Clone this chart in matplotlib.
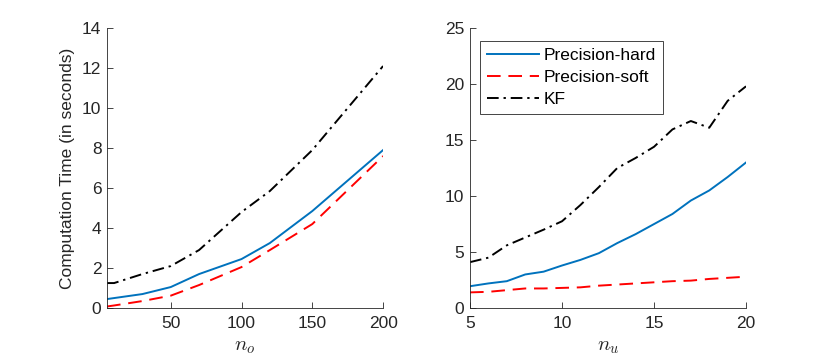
import matplotlib
matplotlib.use("Agg")
import matplotlib.pyplot as plt

plt.rcParams['font.family'] = ['Liberation Sans', 'DejaVu Sans']
plt.rcParams['mathtext.fontset'] = 'cm'

# Left panel: n_o
no_vals = [5, 10, 30, 50, 70, 100, 120, 150, 200]
no_hard = [0.45, 0.5, 0.7, 1.05, 1.7, 2.45, 3.25, 4.85, 7.9]
no_soft = [0.08, 0.13, 0.35, 0.62, 1.15, 2.05, 2.9, 4.2, 7.6]
no_kf = [1.25, 1.25, 1.7, 2.1, 2.9, 4.8, 5.85, 7.9, 12.1]

# Right panel: n_u
nu_vals = [5, 6, 7, 8, 9, 10, 11, 12, 13, 14, 15, 16, 17, 18, 19, 20]
nu_hard = [1.95, 2.2, 2.4, 3.0, 3.25, 3.8, 4.3, 4.9, 5.8, 6.6, 7.5, 8.4, 9.6, 10.5, 11.7, 13.0]
nu_soft = [1.4, 1.45, 1.6, 1.75, 1.75, 1.8, 1.85, 2.0, 2.1, 2.2, 2.3, 2.4, 2.45, 2.6, 2.7, 2.8]
nu_kf = [4.1, 4.5, 5.6, 6.3, 7.0, 7.75, 9.2, 10.8, 12.5, 13.4, 14.4, 15.95, 16.7, 16.1, 18.5, 19.8]

labels = ['Precision-hard', 'Precision-soft', 'KF']
blue = '#0072BD'
gray = '#262626'

fig = plt.figure(figsize=(8.24, 3.62), dpi=100)
ax1 = fig.add_axes([0.1299, 0.149, 0.335, 0.7735])
ax2 = fig.add_axes([0.5704, 0.149, 0.335, 0.7735])

lw = 1.4
def draw(ax, x, h, s, k):
    ax.plot(x, h, color=blue, lw=lw, ls='-', label=labels[0])
    ax.plot(x, s, color='r', lw=lw, ls=(0, (7, 4)), label=labels[1])
    ax.plot(x, k, color='k', lw=lw, ls=(0, (6, 2.5, 1.2, 2.5)), label=labels[2])

draw(ax1, no_vals, no_hard, no_soft, no_kf)
draw(ax2, nu_vals, nu_hard, nu_soft, nu_kf)

ax1.set_xlim(5, 200)
ax1.set_ylim(0, 14)
ax1.set_xticks([50, 100, 150, 200])
ax1.set_yticks(range(0, 15, 2))
ax2.set_xlim(5, 20)
ax2.set_ylim(0, 25)
ax2.set_xticks([5, 10, 15, 20])
ax2.set_yticks(range(0, 26, 5))

fs = 12.5
for ax in (ax1, ax2):
    for sp in ('top', 'right'):
        ax.spines[sp].set_visible(False)
    for sp in ('left', 'bottom'):
        ax.spines[sp].set_color(gray)
        ax.spines[sp].set_linewidth(0.6)
    ax.tick_params(direction='in', length=4, width=0.6, color=gray,
                   labelcolor=gray, labelsize=fs)
    ax.tick_params(axis='x', pad=6)
    ax.tick_params(axis='y', pad=4)

ax1.set_xlabel(r'$n_o$', fontsize=15, color=gray, labelpad=4)
ax2.set_xlabel(r'$n_u$', fontsize=15, color=gray, labelpad=4)
ax1.set_ylabel('Computation Time (in seconds)', fontsize=fs, color=gray, labelpad=5)

leg = ax2.legend(loc='upper left', bbox_to_anchor=(0.035, 0.955), fontsize=fs,
                 fancybox=False, framealpha=1, edgecolor=gray, handlelength=3.0,
                 handletextpad=0.3, borderpad=0.4, labelspacing=0.4, borderaxespad=0)
leg.get_frame().set_linewidth(0.6)
for t in leg.get_texts():
    t.set_color('black')

fig.savefig('out.png', dpi=100)
